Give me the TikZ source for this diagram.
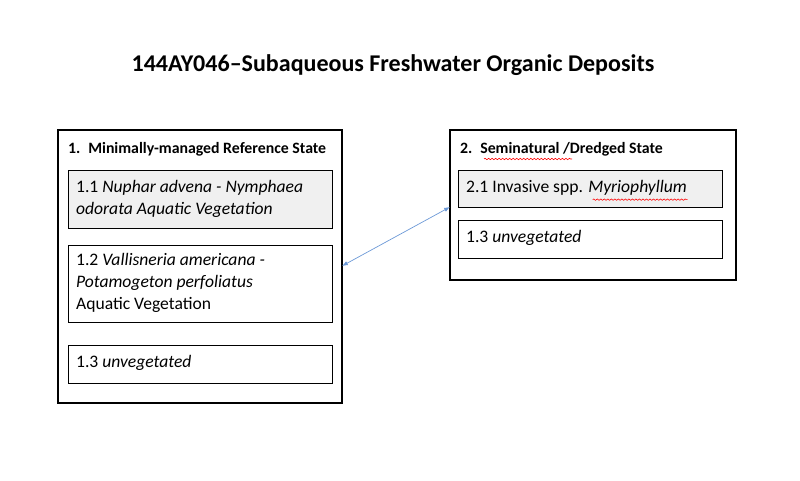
\documentclass[tikz,border=0pt]{standalone}
\usepackage{fontspec}
\setmainfont{Carlito}
\usetikzlibrary{arrows.meta,decorations.pathmorphing}
\tikzset{
  statebox/.style={draw,line width=1.5pt},
  phasetext/.style={anchor=west,align=left,font=\fontsize{15}{18.5}\selectfont},
  squig/.style={red,line width=0.5pt,decorate,decoration={snake,amplitude=0.6pt,segment length=3pt}}
}
\begin{document}
\begin{tikzpicture}[x=0.03cm,y=-0.03cm]
\useasboundingbox (0,0) rectangle (800,481);
%% titre
\node (title) at (393,65) {\fontsize{20.5}{24}\selectfont\bfseries 144AY046--Subaqueous Freshwater Organic Deposits};

%% etat 1
\draw [statebox] (58,130) rectangle (342,403);
\node (s1) [anchor=west] at (64,149) {\fontsize{13.5}{16}\selectfont\bfseries 1.\enspace Minimally-managed Reference State};
\draw [line width=0.6pt,fill=gray!12] (68,170) rectangle (332,228);
\node (p11) [phasetext] at (72,199) {1.1 \textit{Nuphar advena - Nymphaea}\\\textit{odorata Aquatic Vegetation}};
\draw [line width=0.6pt] (68,245) rectangle (332,322);
\node (p12) [phasetext] at (72,283) {1.2 \textit{Vallisneria americana -}\\\textit{Potamogeton perfoliatus}\\Aquatic Vegetation};
\draw [line width=0.6pt] (68,345) rectangle (332,383);
\node (p13) [phasetext] at (72,363) {1.3 \textit{unvegetated}};

%% etat 2
\draw [statebox] (450,130) rectangle (736,280);
\node (s2) [anchor=west] at (456,149) {\fontsize{13.5}{16}\selectfont\bfseries 2.\enspace Seminatural /Dredged State};
\draw [line width=0.6pt,fill=gray!12] (458,170) rectangle (722,207);
\node (p21) [phasetext] at (462,188) {2.1 Invasive spp. \textit{Myriophyllum}};
\draw [line width=0.6pt] (458,220) rectangle (722,258);
\node (p23) [phasetext] at (462,238) {1.3 \textit{unvegetated}};

%% soulignes
\draw [squig] (484,159) -- (572,159);
\draw [squig] ([xshift=-2.95cm]p21.south east) -- ([xshift=-0.1cm]p21.south east);

%% transition
\coordinate (t1) at (342,266);
\coordinate (t2) at (450,207);
\draw [{Latex[length=5pt]}-{Latex[length=5pt]},color=cyan!50!blue!60,line width=0.6pt] (t1) -- (t2);
\end{tikzpicture}
\end{document}
